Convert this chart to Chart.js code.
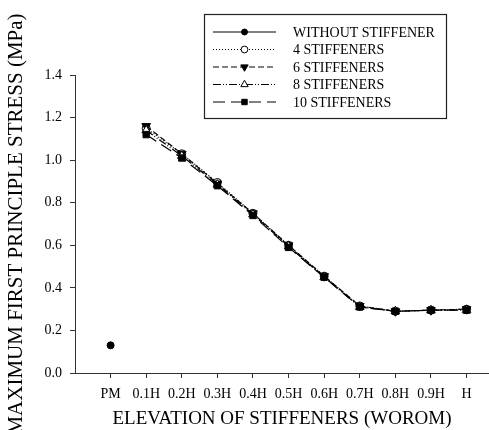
<!DOCTYPE html>
<html>
<head>
<meta charset="utf-8">
<script src="https://cdn.jsdelivr.net/npm/chart.js@4.4.0/dist/chart.umd.min.js"></script>
<style>
  html, body { margin: 0; padding: 0; background: #fff; }
  #wrap { width: 489px; height: 430px; }
</style>
</head>
<body>
<div id="wrap"><canvas id="stress"></canvas></div>
<script>
// elevations along the wall, PM = plain masonry
const elevations = ['PM', '0.1H', '0.2H', '0.3H', '0.4H', '0.5H', '0.6H', '0.7H', '0.8H', '0.9H', 'H'];

const withoutStiffener = [0.13];
const stiff4  = [1.15, 1.03, 0.895, 0.75, 0.60, 0.455, 0.315, 0.29, 0.295, 0.30];
const stiff6  = [1.16, 1.03, 0.89, 0.75, 0.60, 0.455, 0.315, 0.29, 0.295, 0.30];
const stiff8  = [1.14, 1.02, 0.885, 0.745, 0.595, 0.45, 0.31, 0.29, 0.295, 0.295];
const stiff10 = [1.12, 1.01, 0.88, 0.74, 0.59, 0.45, 0.31, 0.29, 0.295, 0.295];

const yTicks = [0.0, 0.2, 0.4, 0.6, 0.8, 1.0, 1.2, 1.4];

// stiffener series start at 0.1H (index 1)
const pts = (arr, start) => arr.map((v, i) => ({ x: i + start, y: v }));

const serif = '"Liberation Serif", "Times New Roman", serif';

const datasets = [
  {
    label: 'WITHOUT STIFFENER',
    data: pts(withoutStiffener, 0),
    borderColor: '#000', backgroundColor: '#000',
    borderWidth: 1.2, borderDash: [],
    pointStyle: 'circle', pointRadius: 3.5, pointRotation: 0,
    order: 4
  },
  {
    label: '4 STIFFENERS',
    data: pts(stiff4, 1),
    borderColor: '#000', backgroundColor: '#fff',
    borderWidth: 1.2, borderDash: [1, 2],
    pointStyle: 'circle', pointRadius: 4, pointRotation: 0,
    order: 3
  },
  {
    label: '6 STIFFENERS',
    data: pts(stiff6, 1),
    borderColor: '#000', backgroundColor: '#000',
    borderWidth: 1.2, borderDash: [6, 3],
    pointStyle: 'triangle', pointRadius: 5, pointRotation: 180,
    order: 2
  },
  {
    label: '8 STIFFENERS',
    data: pts(stiff8, 1),
    borderColor: '#000', backgroundColor: '#fff',
    borderWidth: 1.2, borderDash: [8, 2, 1, 2, 1, 2],
    pointStyle: 'triangle', pointRadius: 5, pointRotation: 0,
    order: 1
  },
  {
    label: '10 STIFFENERS',
    data: pts(stiff10, 1),
    borderColor: '#000', backgroundColor: '#000',
    borderWidth: 1.2, borderDash: [12, 6],
    pointStyle: 'rect', pointRadius: 4.5, pointRotation: 0,
    order: 0
  }
];
datasets.forEach(d => {
  d.pointBorderWidth = 1;
  d.pointBorderColor = '#000';
  d.pointBackgroundColor = d.backgroundColor;
  d.tension = 0;
  d.fill = false;
});

// boxed legend with a line sample and marker for each series
const boxLegend = {
  id: 'boxLegend',
  afterDraw(chart) {
    const ctx = chart.ctx;
    const x0 = 204, y0 = 14, w = 242, h = 104;
    ctx.save();
    ctx.fillStyle = '#fff';
    ctx.fillRect(x0, y0, w, h);
    ctx.strokeStyle = '#222';
    ctx.lineWidth = 1.2;
    ctx.strokeRect(x0 + 0.5, y0 + 0.5, w, h);
    ctx.font = '14px ' + serif;
    ctx.textBaseline = 'middle';
    datasets.forEach((d, i) => {
      const y = 32 + i * 17.5;
      ctx.strokeStyle = '#000';
      ctx.lineWidth = 1;
      ctx.setLineDash(d.borderDash);
      ctx.beginPath();
      ctx.moveTo(213, y);
      ctx.lineTo(276, y);
      ctx.stroke();
      ctx.setLineDash([]);
      ctx.fillStyle = d.backgroundColor;
      Chart.helpers.drawPoint(ctx, {
        pointStyle: d.pointStyle,
        radius: d.pointRadius * 0.85,
        rotation: d.pointRotation,
        borderWidth: 1
      }, 244.5, y);
      ctx.fillStyle = '#000';
      ctx.fillText(d.label, 293, y + 1);
    });
    ctx.restore();
  }
};

new Chart(document.getElementById('stress'), {
  type: 'line',
  data: { datasets: datasets },
  plugins: [boxLegend],
  options: {
    responsive: true,
    maintainAspectRatio: false,
    animation: false,
    layout: {
      autoPadding: false,
      padding: { top: 75, right: 0, left: 0, bottom: 0 }
    },
    plugins: {
      legend: { display: false },
      tooltip: { enabled: false }
    },
    scales: {
      x: {
        type: 'linear',
        min: -1,
        max: 10.63,
        afterBuildTicks(scale) {
          scale.ticks = elevations.map((_, i) => ({ value: i }));
        },
        afterFit(scale) {
          scale.height = 57;
          scale.paddingLeft = 0;
          scale.paddingRight = 0;
        },
        ticks: {
          color: '#000',
          font: { family: serif, size: 14 },
          padding: 8,
          maxRotation: 0,
          autoSkip: false,
          callback: v => elevations[v] ?? ''
        },
        grid: {
          display: true,
          drawOnChartArea: false,
          drawTicks: true,
          tickLength: 5,
          color: '#333'
        },
        border: { color: '#333', width: 1 },
        title: {
          display: true,
          text: 'ELEVATION OF STIFFENERS (WOROM)',
          color: '#000',
          font: { family: serif, size: 19 },
          padding: { top: 0, bottom: 0 }
        }
      },
      y: {
        min: 0,
        max: 1.4,
        afterBuildTicks(scale) {
          scale.ticks = yTicks.map(v => ({ value: v }));
        },
        afterFit(scale) {
          scale.width = 75;
          scale.paddingTop = 0;
          scale.paddingBottom = 0;
        },
        ticks: {
          color: '#000',
          font: { family: serif, size: 14 },
          padding: 8,
          callback: v => v.toFixed(1)
        },
        grid: {
          display: true,
          drawOnChartArea: false,
          drawTicks: true,
          tickLength: 5,
          color: '#333'
        },
        border: { color: '#333', width: 1 },
        title: {
          display: true,
          text: 'MAXIMUM FIRST PRINCIPLE STRESS (MPa)',
          color: '#000',
          font: { family: serif, size: 21 },
          padding: { top: 4, bottom: 0 }
        }
      }
    }
  }
});
</script>
</body>
</html>
